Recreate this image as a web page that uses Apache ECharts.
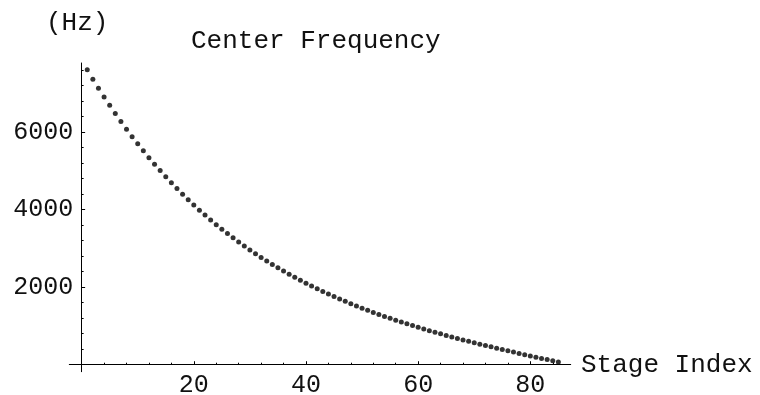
<!DOCTYPE html>
<html>
<head>
<meta charset="utf-8">
<script src="https://cdn.jsdelivr.net/npm/echarts@6/dist/echarts.min.js"></script>
<style>
html,body{margin:0;padding:0;background:#fff;}
#chart{width:760px;height:395px;}
</style>
</head>
<body>
<div id="chart"></div>
<script>
var stageIndex = [1,2,3,4,5,6,7,8,9,10,11,12,13,14,15,16,17,18,19,20,21,22,23,24,25,26,27,28,29,30,31,32,33,34,35,36,37,38,39,40,41,42,43,44,45,46,47,48,49,50,51,52,53,54,55,56,57,58,59,60,61,62,63,64,65,66,67,68,69,70,71,72,73,74,75,76,77,78,79,80,81,82,83,84,85];
var centerFreq = [7600,7360,7128,6903,6685,6474,6270,6071,5879,5693,5512,5337,5167,5003,4843,4689,4539,4394,4253,4116,3984,3856,3731,3610,3493,3380,3270,3163,3059,2959,2861,2766,2674,2585,2499,2414,2333,2253,2176,2102,2029,1958,1889,1823,1758,1694,1633,1573,1515,1458,1403,1349,1297,1245,1196,1147,1099,1053,1008,963,920,877,836,795,755,716,677,640,603,566,530,495,460,426,392,358,325,292,259,227,195,163,132,100,69];
var xMajorTicks = [20,40,60,80];
var xMinorTicks = [4,8,12,16,24,28,32,36,44,48,52,56,64,68,72,76,84];
var yMajorTicks = [2000,4000,6000];
var yMinorTicks = [400,800,1200,1600,2400,2800,3200,3600,4400,4800,5200,5600,6400,6800,7200,7600];
var titleText = 'Center Frequency';
var xName = 'Stage Index';
var yName = '(Hz)';

var FONT = '"Liberation Mono", "Courier New", monospace';
var data = stageIndex.map(function(s, i){ return [s, centerFreq[i]]; });

var chart = echarts.init(document.getElementById('chart'), null, {renderer:'canvas'});
var lineStyle = {color:'#000', width:1};
var xBase = {type:'value', min:-2.2, max:87.2, splitLine:{show:false}, position:'bottom'};
var yBase = {type:'value', min:-180, max:7777, splitLine:{show:false}, position:'left'};
chart.setOption({
  animation:false,
  backgroundColor:'#fff',
  grid:{left:69.3, right:189.3, top:63, bottom:23.3, containLabel:false, outerBoundsMode:'none'},
  xAxis:[
    Object.assign({}, xBase, {
      axisLine:{show:true, onZero:true, onZeroAxisIndex:0, lineStyle:lineStyle},
      axisTick:{show:true, inside:true, length:3.5, customValues:xMajorTicks, lineStyle:lineStyle},
      axisLabel:{show:true, customValues:xMajorTicks, margin:1, color:'#111', fontFamily:FONT, fontSize:25}
    }),
    Object.assign({}, xBase, {
      axisLine:{show:false, onZero:true, onZeroAxisIndex:0},
      axisTick:{show:true, inside:true, length:2, customValues:xMinorTicks, lineStyle:lineStyle},
      axisLabel:{show:false}
    })
  ],
  yAxis:[
    Object.assign({}, yBase, {
      axisLine:{show:true, onZero:true, onZeroAxisIndex:0, lineStyle:lineStyle},
      axisTick:{show:true, inside:true, length:3.5, customValues:yMajorTicks, lineStyle:lineStyle},
      axisLabel:{show:true, customValues:yMajorTicks, margin:-4, color:'#111', fontFamily:FONT, fontSize:25,
        formatter:function(v){ return String(v); }}
    }),
    Object.assign({}, yBase, {
      axisLine:{show:false, onZero:true, onZeroAxisIndex:0},
      axisTick:{show:true, inside:true, length:2, customValues:yMinorTicks, lineStyle:lineStyle},
      axisLabel:{show:false}
    })
  ],
  graphic:[
    {type:'text', left:191, top:28, style:{text:titleText, font:'26px ' + FONT, fill:'#111'}},
    {type:'text', left:46, top:10, style:{text:yName, font:'26px ' + FONT, fill:'#111'}},
    {type:'text', left:581, top:352, style:{text:xName, font:'26px ' + FONT, fill:'#111'}}
  ],
  series:[{
    type:'scatter',
    xAxisIndex:0, yAxisIndex:0,
    data:data,
    symbol:'circle',
    symbolSize:5,
    itemStyle:{color:'#000'}
  }]
});
</script>
</body>
</html>
